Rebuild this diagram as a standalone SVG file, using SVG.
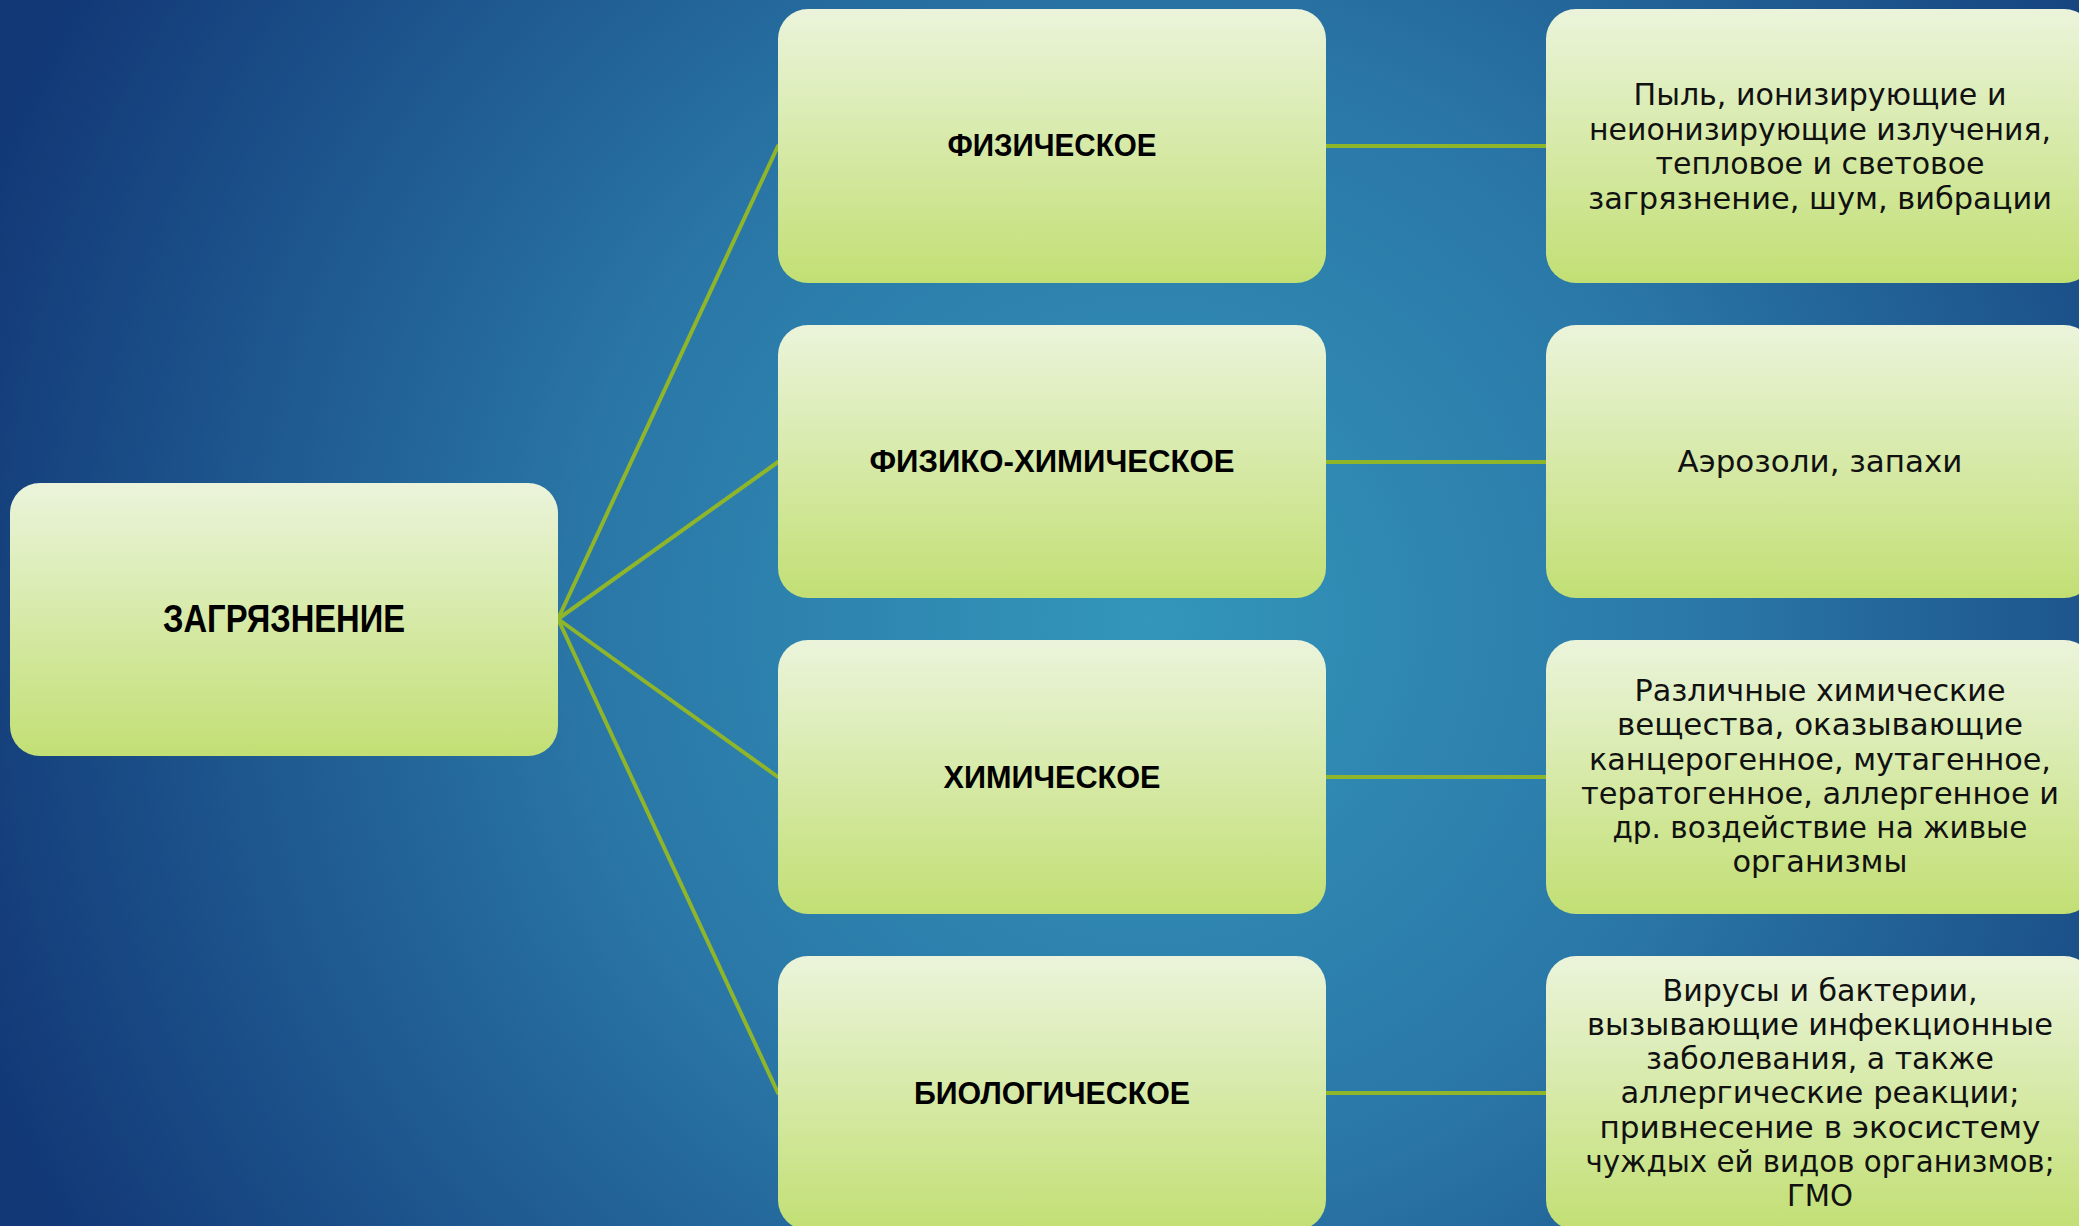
<svg xmlns="http://www.w3.org/2000/svg" width="2079" height="1226" viewBox="0 0 2079 1226">
<defs>
<radialGradient id="bg" gradientUnits="userSpaceOnUse" cx="1150" cy="620" r="1250">
<stop offset="0" stop-color="#3396BA"/>
<stop offset="0.45" stop-color="#2A77A7"/>
<stop offset="1" stop-color="#123876"/>
</radialGradient>
<linearGradient id="box" x1="0" y1="0" x2="0" y2="1">
<stop offset="0" stop-color="#EBF4DB"/>
<stop offset="1" stop-color="#C2DF74"/>
</linearGradient>
<style>
.node{fill:url(#box);}
.lbl{font-family:"Liberation Sans",Arial,sans-serif;font-weight:bold;fill:#000;text-anchor:middle;}
.txt{font-family:"DejaVu Sans","Liberation Sans",sans-serif;font-size:30px;fill:#111;text-anchor:middle;}
.conn{stroke:#8FB52A;stroke-width:4;fill:none;stroke-linecap:round;}
</style>
</defs>
<rect x="0" y="0" width="2079" height="1226" fill="url(#bg)"/>

<g id="connectors">
<line class="conn" x1="558" y1="619" x2="778" y2="146"/>
<line class="conn" x1="558" y1="619" x2="778" y2="462"/>
<line class="conn" x1="558" y1="619" x2="778" y2="777"/>
<line class="conn" x1="558" y1="619" x2="778" y2="1093"/>
<line class="conn" x1="1326" y1="146" x2="1546" y2="146"/>
<line class="conn" x1="1326" y1="462" x2="1546" y2="462"/>
<line class="conn" x1="1326" y1="777" x2="1546" y2="777"/>
<line class="conn" x1="1326" y1="1093" x2="1546" y2="1093"/>
</g>

<g id="node-root">
<rect class="node" x="10" y="483" width="548" height="273" rx="30"/>
<text class="lbl" x="284" y="632" font-size="39" textLength="242" lengthAdjust="spacingAndGlyphs">ЗАГРЯЗНЕНИЕ</text>
</g>

<g id="node-phys">
<rect class="node" x="778" y="9" width="548" height="274" rx="30"/>
<text class="lbl" x="1052" y="156" font-size="32" textLength="209" lengthAdjust="spacingAndGlyphs">ФИЗИЧЕСКОЕ</text>
</g>
<g id="node-physchem">
<rect class="node" x="778" y="325" width="548" height="273" rx="30"/>
<text class="lbl" x="1052" y="472" font-size="32" textLength="365" lengthAdjust="spacingAndGlyphs">ФИЗИКО-ХИМИЧЕСКОЕ</text>
</g>
<g id="node-chem">
<rect class="node" x="778" y="640" width="548" height="274" rx="30"/>
<text class="lbl" x="1052" y="788" font-size="32" textLength="217" lengthAdjust="spacingAndGlyphs">ХИМИЧЕСКОЕ</text>
</g>
<g id="node-bio">
<rect class="node" x="778" y="956" width="548" height="274" rx="30"/>
<text class="lbl" x="1052" y="1104" font-size="32" textLength="276" lengthAdjust="spacingAndGlyphs">БИОЛОГИЧЕСКОЕ</text>
</g>

<g id="node-phys-desc">
<rect class="node" x="1546" y="9" width="548" height="274" rx="30"/>
<text class="txt" x="1820" y="105" textLength="373" lengthAdjust="spacingAndGlyphs">Пыль, ионизирующие и</text>
<text class="txt" x="1820" y="140" textLength="462" lengthAdjust="spacingAndGlyphs">неионизирующие излучения,</text>
<text class="txt" x="1820" y="174" textLength="329" lengthAdjust="spacingAndGlyphs">тепловое и световое</text>
<text class="txt" x="1820" y="209" textLength="464" lengthAdjust="spacingAndGlyphs">загрязнение, шум, вибрации</text>
</g>
<g id="node-physchem-desc">
<rect class="node" x="1546" y="325" width="548" height="273" rx="30"/>
<text class="txt" x="1820" y="472" textLength="285" lengthAdjust="spacingAndGlyphs">Аэрозоли, запахи</text>
</g>
<g id="node-chem-desc">
<rect class="node" x="1546" y="640" width="548" height="274" rx="30"/>
<text class="txt" x="1820" y="701" textLength="371" lengthAdjust="spacingAndGlyphs">Различные химические</text>
<text class="txt" x="1820" y="735" textLength="406" lengthAdjust="spacingAndGlyphs">вещества, оказывающие</text>
<text class="txt" x="1820" y="770" textLength="462" lengthAdjust="spacingAndGlyphs">канцерогенное, мутагенное,</text>
<text class="txt" x="1820" y="804" textLength="478" lengthAdjust="spacingAndGlyphs">тератогенное, аллергенное и</text>
<text class="txt" x="1820" y="838" textLength="415" lengthAdjust="spacingAndGlyphs">др. воздействие на живые</text>
<text class="txt" x="1820" y="872" textLength="175" lengthAdjust="spacingAndGlyphs">организмы</text>
</g>
<g id="node-bio-desc">
<rect class="node" x="1546" y="956" width="548" height="274" rx="30"/>
<text class="txt" x="1820" y="1001" textLength="315" lengthAdjust="spacingAndGlyphs">Вирусы и бактерии,</text>
<text class="txt" x="1820" y="1035" textLength="466" lengthAdjust="spacingAndGlyphs">вызывающие инфекционные</text>
<text class="txt" x="1820" y="1069" textLength="348" lengthAdjust="spacingAndGlyphs">заболевания, а также</text>
<text class="txt" x="1820" y="1103" textLength="399" lengthAdjust="spacingAndGlyphs">аллергические реакции;</text>
<text class="txt" x="1820" y="1138" textLength="441" lengthAdjust="spacingAndGlyphs">привнесение в экосистему</text>
<text class="txt" x="1820" y="1172" textLength="469" lengthAdjust="spacingAndGlyphs">чуждых ей видов организмов;</text>
<text class="txt" x="1820" y="1206" textLength="66" lengthAdjust="spacingAndGlyphs">ГМО</text>
</g>
</svg>
